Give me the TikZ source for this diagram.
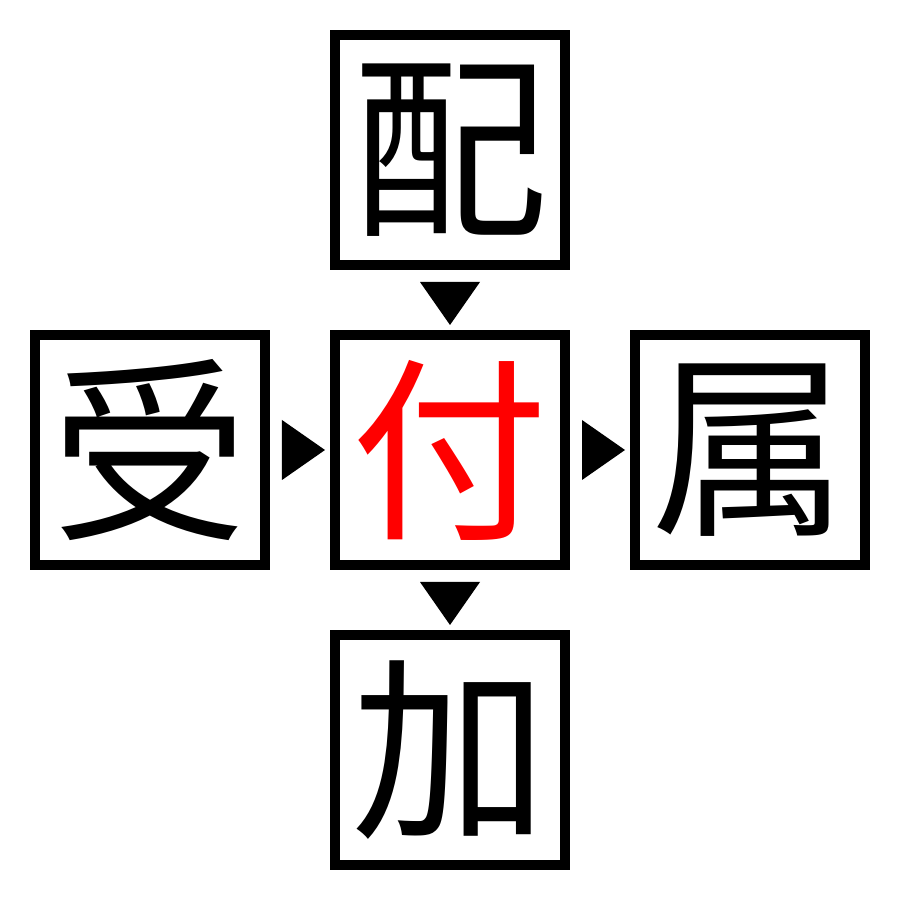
\documentclass[tikz,border=0pt]{standalone}
\usepackage{fontspec}
\newfontfamily\cjk{Noto Sans CJK JP}
\usetikzlibrary{positioning,calc}
\tikzset{kanji/.style={draw,line width=0.1cm,minimum size=2.3cm,inner sep=0pt,font=\cjk\fontsize{56}{56}\selectfont}}
\begin{document}
\begin{tikzpicture}[node distance=0.6cm]
\useasboundingbox (0,0) rectangle (9,9);
\node[kanji,text=red] (fu) at (4.5,4.5) {付};
\node[kanji,above=of fu] (hai) {配};
\node[kanji,left=of fu] (ju) {受};
\node[kanji,right=of fu] (zoku) {属};
\node[kanji,below=of fu] (ka) {加};
% arrow heads
\fill ($(hai.south)+(-0.3,-0.12)$) -- ++(0.6,0) -- ($(fu.north)+(0,0.05)$) -- cycle;
\fill ($(ju.east)+(0.12,-0.3)$) -- ++(0,0.6) -- ($(fu.west)+(-0.05,0)$) -- cycle;
\fill ($(fu.east)+(0.12,-0.3)$) -- ++(0,0.6) -- ($(zoku.west)+(-0.05,0)$) -- cycle;
\fill ($(fu.south)+(-0.3,-0.12)$) -- ++(0.6,0) -- ($(ka.north)+(0,0.05)$) -- cycle;
\end{tikzpicture}
\end{document}
